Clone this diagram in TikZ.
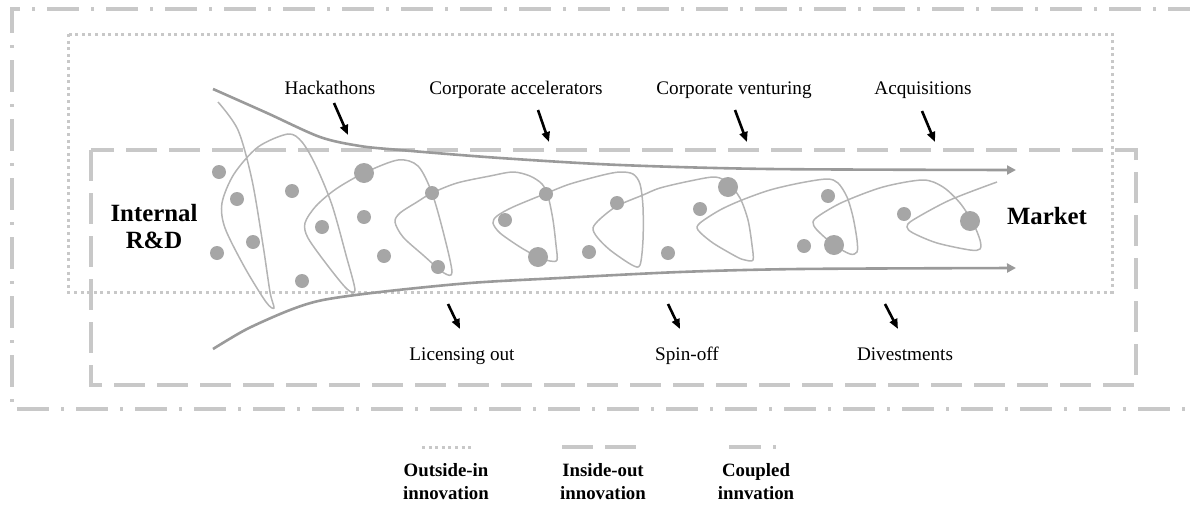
\documentclass[tikz,border=0pt]{standalone}
\usepackage{fontspec}
\setmainfont{Liberation Serif}
\usetikzlibrary{arrows.meta}

\definecolor{boxgray}{HTML}{C8C8C8}
\definecolor{flowgray}{HTML}{9A9A9A}
\definecolor{loopgray}{HTML}{B4B4B4}
\definecolor{dotgray}{HTML}{A6A6A6}

\tikzset{
  outsidein/.style={boxgray,line width=1.5pt,dash pattern=on 1.5pt off 1.8pt},
  insideout/.style={boxgray,line width=1.6pt,dash pattern=on 15.5pt off 6pt},
  coupled/.style={boxgray,line width=1.6pt,dash pattern=on 16pt off 6pt on 1.5pt off 6pt},
  flow/.style={flowgray,line width=1.3pt,-{Triangle[length=4.5pt,width=4.5pt]}},
  channel/.style={black,line width=1.3pt,-{Triangle[length=5pt,width=4pt]}},
  lbl/.style={anchor=base,inner sep=0pt,font=\fontsize{9.6}{11}\selectfont},
  big/.style={inner sep=0pt,align=center,font=\fontsize{12.4}{13.5}\selectfont\bfseries},
  legend/.style={inner sep=0pt,align=center,font=\fontsize{9.4}{11.5}\selectfont\bfseries},
}

\begin{document}
\begin{tikzpicture}[x=0.5pt,y=-0.5pt]
  \useasboundingbox (0,0) rectangle (1190,504);
  % the three kinds of open innovation
  \draw[coupled] (1200,9) -- (12,9) -- (12,409) -- (1200,409);
  \draw[outsidein] (68,34) rectangle (1112,292);
  \draw[insideout] (91,150) rectangle (1136,385);
  % projects running through the funnel
  \draw[loopgray,line width=0.75pt] plot[smooth,tension=0.5] coordinates {
    (218,102) (238,130) (252,180) (263,245) (270,292) (274,308) (266,302) (245,268)
    (225,228) (222,203) (234,174) (258,147) (288,134) (302,142) (316,166) (332,205)
    (346,255) (355,290) (347,289) (328,266) (308,238) (305,223) (316,206) (336,189)
    (364,173) (398,160) (418,166) (432,193) (444,235) (452,272) (444,273) (423,255)
    (403,237) (395,222) (400,213) (417,202) (432,193) (457,183) (490,176) (513,172)
    (530,176) (542,184) (548,196) (553,220) (556,245) (557,260) (550,261) (538,257)
    (520,247) (500,233) (493,223) (497,216) (513,207) (547,193) (570,184) (603,175)
    (620,172) (633,174) (640,184) (643,207) (643,240) (640,265) (632,265) (610,250)
    (597,237) (593,228) (600,219) (617,206) (643,195) (660,188) (690,181) (715,177)
    (728,183) (740,198) (748,220) (752,245) (753,260) (745,260) (737,257) (713,243)
    (698,230) (700,223) (720,210) (742,200) (770,190) (800,183) (827,179) (838,183)
    (847,197) (853,217) (857,240) (857,252) (850,254) (834,245) (817,230) (813,222)
    (820,215) (843,202) (883,187) (923,180) (943,187) (960,203) (973,223) (980,240)
    (980,249) (970,250) (937,243) (913,233) (907,227) (913,220) (950,200) (997,182)};
  \foreach \x/\y in {219/172,237/199,292/191,253/242,217/253,302/281,322/227,364/217,
      384/256,432/193,438/267,505/220,546/194,589/252,617/203,668/253,700/209,
      828/196,804/246,904/214}
    \fill[dotgray] (\x,\y) circle[radius=3.5pt];
  \foreach \x/\y in {364/173,538/257,728/187,834/245,970/221}
    \fill[dotgray] (\x,\y) circle[radius=5pt];
  % funnel
  \coordinate (rd-top) at (213,89);
  \coordinate (rd-bot) at (213,349);
  \coordinate (mk-top) at (1016,170);
  \coordinate (mk-bot) at (1016,268);
  \draw[flow] plot[smooth,tension=0.5] coordinates {(rd-top) (267,113) (320,137)
    (360,146) (400,150) (500,158) (620,165) (770,169) (mk-top)};
  \draw[flow] plot[smooth,tension=0.5] coordinates {(rd-bot) (247,329) (290,310)
    (323,300) (380,292) (470,283) (560,278) (680,272) (800,269) (mk-bot)};
  \node[big] (rd) at (154,227) {Internal\\R\&D};
  \node[big,anchor=base] (mkt) at (1047,224) {Market};
  % in
  \node[lbl] (hack) at (330,94) {Hackathons};
  \node[lbl] (accel) at (516,94) {Corporate accelerators};
  \node[lbl] (vent) at (734,94) {Corporate venturing};
  \node[lbl] (acq) at (923,94) {Acquisitions};
  \draw[channel] (hack.base) ++(2pt,-4.5pt) -- ++(7pt,-16pt);
  \draw[channel] (accel.base) ++(11pt,-8pt) -- ++(5.5pt,-16pt);
  \draw[channel] (vent.base) ++(0.5pt,-8pt) -- ++(6pt,-16pt);
  \draw[channel] (acq.base) ++(-0.5pt,-8.5pt) -- ++(6.5pt,-15.5pt);
  % out
  \node[lbl] (lic) at (462,360) {Licensing out};
  \node[lbl] (spin) at (687,360) {Spin-off};
  \node[lbl] (div) at (905,360) {Divestments};
  \draw[channel] (lic.base) ++(-7pt,28pt) -- ++(6pt,-12.5pt);
  \draw[channel] (spin.base) ++(-9.5pt,28pt) -- ++(6pt,-12.5pt);
  \draw[channel] (div.base) ++(-10pt,28pt) -- ++(6.5pt,-12.5pt);
  % legend
  \node[legend] (oi) at (446,482) {Outside-in\\innovation};
  \node[legend] (io) at (603,482) {Inside-out\\innovation};
  \node[legend] (cp) at (756,482) {Coupled\\innvation};
  \draw[outsidein] (422,447) -- (473,447);
  \draw[insideout] (562,447) -- (637,447);
  \draw[coupled] (729,447) -- (777,447);
\end{tikzpicture}
\end{document}
